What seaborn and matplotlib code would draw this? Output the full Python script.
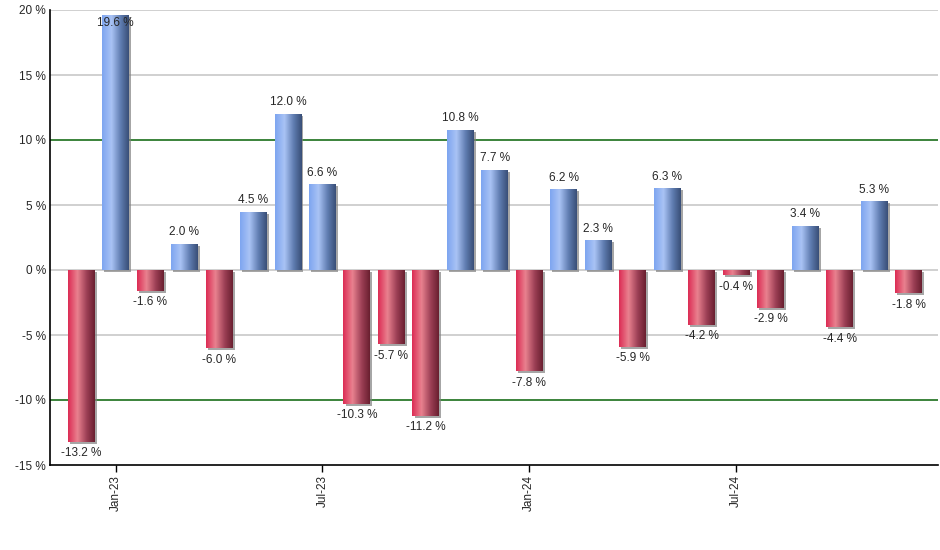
import numpy as np
import pandas as pd
import matplotlib
matplotlib.use("Agg")
import matplotlib.pyplot as plt
import matplotlib.patheffects as pe
from matplotlib.colors import LinearSegmentedColormap
import seaborn as sns

months = pd.date_range("2022-12-01", "2024-12-01", freq="MS")
returns = [-13.2, 19.6, -1.6, 2.0, -6.0, 4.5, 12.0, 6.6, -10.3, -5.7, -11.2, 10.8,
           7.7, -7.8, 6.2, 2.3, -5.9, 6.3, -4.2, -0.4, -2.9, 3.4, -4.4, 5.3, -1.8]
tick_pos = [1, 7, 13, 19]
tick_labels = ["Jan-23", "Jul-23", "Jan-24", "Jul-24"]
y_ticks = [-15, -10, -5, 0, 5, 10, 15, 20]

df = pd.DataFrame({"month": months.strftime("%b-%y"), "ret": returns})

sns.set_style("white")
plt.rcParams["font.family"] = ["Liberation Sans", "DejaVu Sans"]

fig = plt.figure(figsize=(9.4, 5.5), dpi=100)
ax = fig.add_axes([50 / 940, 85 / 550, 888 / 940, 455 / 550])

sns.barplot(data=df, x="month", y="ret", width=0.78, color="white", ax=ax, zorder=3)

# horizontal gradient colormaps (cylinder look)
blue = LinearSegmentedColormap.from_list(
    "b", [(0, "#7ea5f0"), (0.35, "#a9c3f5"), (0.7, "#5f7cb0"), (1, "#394f78")])
red = LinearSegmentedColormap.from_list(
    "r", [(0, "#dc2d55"), (0.35, "#e9818f"), (0.7, "#9c3f55"), (1, "#6a1f30")])
grad = np.linspace(0, 1, 64).reshape(1, -1)

for bar, v in zip(ax.patches, returns):
    x0 = bar.get_x()
    w = bar.get_width()
    bar.set_facecolor("none")
    bar.set_edgecolor("none")
    bar.set_path_effects([pe.SimplePatchShadow(offset=(1.5, -1.5), shadow_rgbFace="#808080", alpha=0.7),
                          pe.Normal()])
    im = ax.imshow(grad, cmap=blue if v >= 0 else red, aspect="auto",
                   extent=(x0, x0 + w, min(0, v), max(0, v)), zorder=4)
    im.set_clip_path(bar)

ax.set_xlim(-0.9, 24.85)
ax.set_ylim(-15, 20)

for y in y_ticks:
    if y in (10, -10):
        ax.axhline(y, color="#1a6e1a", lw=1.2, zorder=1)
    elif y > -15:
        ax.axhline(y, color="#c8c8c8", lw=1.2, zorder=1)

for i, v in enumerate(returns):
    txt = f"{v:.1f} %"
    if v >= 0:
        if v + 1.5 > 20:
            ax.annotate(txt, (i, v), xytext=(0, -1), textcoords="offset points",
                        ha="center", va="top", fontsize=8.5, zorder=6)
        else:
            ax.annotate(txt, (i, v), xytext=(0, 4), textcoords="offset points",
                        ha="center", va="bottom", fontsize=8.5, zorder=6)
    else:
        ax.annotate(txt, (i, v), xytext=(0, -4), textcoords="offset points",
                    ha="center", va="top", fontsize=8.5, zorder=6)

ax.set_xticks(tick_pos)
ax.set_xticklabels(tick_labels, rotation=90, fontsize=8.5)
ax.set_yticks(y_ticks)
ax.set_yticklabels([f"{y} %" for y in y_ticks], fontsize=8.5)
ax.tick_params(axis="x", length=5, width=1, color="black", direction="out", bottom=True, pad=2)
ax.tick_params(axis="y", length=0, pad=3)
ax.set_xlabel("")
ax.set_ylabel("")

for s in ["top", "right"]:
    ax.spines[s].set_visible(False)
for s in ["left", "bottom"]:
    ax.spines[s].set_color("black")
    ax.spines[s].set_linewidth(1.2)

fig.savefig("out.png", dpi=100)
